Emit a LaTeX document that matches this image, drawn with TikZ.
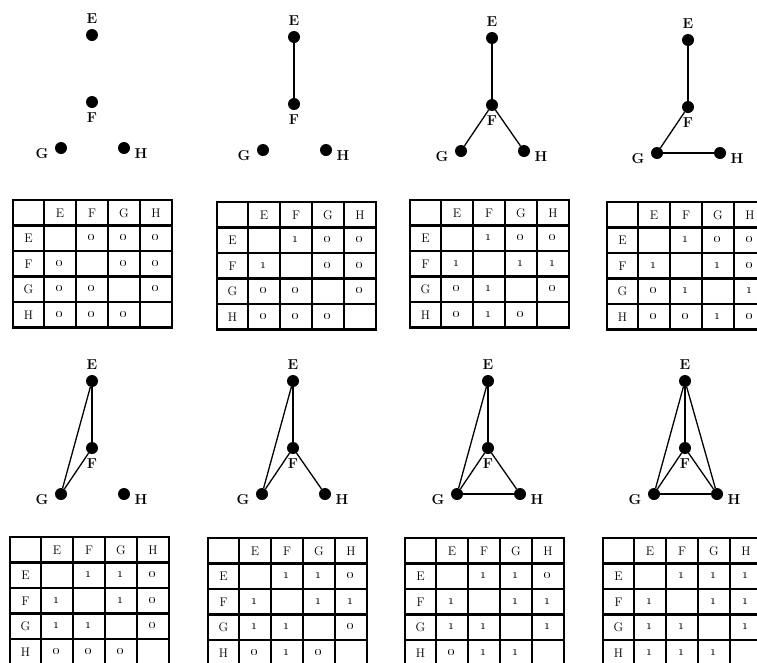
\RequirePackage{fix-cm}
\documentclass[tikz,border=0pt]{standalone}
\usepackage{tikz}
\usetikzlibrary{positioning}
\tikzset{
  vtx/.style={circle, fill=black, inner sep=0, minimum size=12pt},
  vlbl/.style={font=\fontsize{14.4}{16}\selectfont\bfseries, inner sep=0},
  edge/.style={line width=1.3pt},
  gridline/.style={line width=2.3pt},
  cell/.style={font=\fontsize{12.5}{14}\selectfont, inner sep=0},
}
% four vertices E, F, G, H: #1 prefix, (#2,#3) is where E sits
\newcommand\vertices[3]{%
  \node[vtx] (#1e) at (#2,#3) {};
  \node[vtx] (#1f) at (#2,#3+67) {};
  \node[vtx] (#1g) at (#2-31,#3+113) {};
  \node[vtx] (#1h) at (#2+32,#3+113) {};
  \node[vlbl] (#1el) at (#2,#3-16) {E};
  \node[vlbl] (#1fl) at (#2,#3+83) {F};
  \node[vlbl] (#1gl) at (#2-50,#3+119) {G};
  \node[vlbl] (#1hl) at (#2+49,#3+119) {H};
}
% adjacency table: #1 prefix, (#2,#3) top left corner, #4 rows (- on the diagonal)
\newcommand\adjtable[4]{%
  \begin{scope}[shift={(#2,#3)}]
    \draw[gridline] (0,0) rectangle (159,127.5);
    \foreach \x in {31,63,95,127} \draw[gridline] (\x,0) -- (\x,127.5);
    \foreach \y in {25.5,51,76.5,102} \draw[gridline] (0,\y) -- (159,\y);
    \foreach \c [count=\i] in {E,F,G,H} {
      \node[cell] (#1c\c) at (15+32*\i,12.75) {\c};
      \node[cell] (#1r\c) at (15.5,12.75+25.5*\i) {\c};
    }
    \foreach \row [count=\i] in {#4} {
      \foreach \v [count=\j] in \row {
        \if\v-\else
          \node[cell] (#1v\i\j) at (15+32*\j,12.75+25.5*\i) {\oldstylenums{\v}};
        \fi
      }
    }
  \end{scope}}

\begin{document}
\begin{tikzpicture}[x=1pt, y=-1pt]
  \useasboundingbox (0,0) rectangle (757,662);
  \begin{scope}
    \clip (0,0) rectangle (757,662);
    % Top row of graphs
    \vertices{a}{92}{35}
    \vertices{b}{294}{37}
    \draw[edge] (be) -- (bf);
    \vertices{c}{492}{38}
    \draw[edge] (ce) -- (cf);
    \draw[edge] (cf) -- (cg);
    \draw[edge] (cf) -- (ch);
    \vertices{d}{688}{40}
    \draw[edge] (de) -- (df);
    \draw[edge] (df) -- (dg);
    \draw[edge] (dg) -- (dh);
    % Top row of tables
    \adjtable{ta}{13}{200}{{-,0,0,0},{0,-,0,0},{0,0,-,0},{0,0,0,-}}
    \adjtable{tb}{217}{202}{{-,1,0,0},{1,-,0,0},{0,0,-,0},{0,0,0,-}}
    \adjtable{tc}{410}{200}{{-,1,0,0},{1,-,1,1},{0,1,-,0},{0,1,0,-}}
    \adjtable{td}{607}{202}{{-,1,0,0},{1,-,1,0},{0,1,-,1},{0,0,1,0}}
    % Bottom row of graphs
    \vertices{e}{92}{381}
    \draw[edge] (ee) -- (ef);
    \draw[edge] (ee) -- (eg);
    \draw[edge] (ef) -- (eg);
    \vertices{f}{293}{381}
    \draw[edge] (fe) -- (ff);
    \draw[edge] (fe) -- (fg);
    \draw[edge] (ff) -- (fg);
    \draw[edge] (ff) -- (fh);
    \vertices{g}{488}{381}
    \draw[edge] (ge) -- (gf);
    \draw[edge] (ge) -- (gg);
    \draw[edge] (gf) -- (gg);
    \draw[edge] (gf) -- (gh);
    \draw[edge] (gg) -- (gh);
    \vertices{h}{685}{381}
    \draw[edge] (he) -- (hf);
    \draw[edge] (he) -- (hg);
    \draw[edge] (he) -- (hh);
    \draw[edge] (hf) -- (hg);
    \draw[edge] (hf) -- (hh);
    \draw[edge] (hg) -- (hh);
    % Bottom row of tables
    \adjtable{te}{10}{537}{{-,1,1,0},{1,-,1,0},{1,1,-,0},{0,0,0,-}}
    \adjtable{tf}{208}{538}{{-,1,1,0},{1,-,1,1},{1,1,-,0},{0,1,0,-}}
    \adjtable{tg}{405}{538}{{-,1,1,0},{1,-,1,1},{1,1,-,1},{0,1,1,-}}
    \adjtable{th}{603}{538}{{-,1,1,1},{1,-,1,1},{1,1,-,1},{1,1,1,-}}
  \end{scope}
\end{tikzpicture}
\end{document}
